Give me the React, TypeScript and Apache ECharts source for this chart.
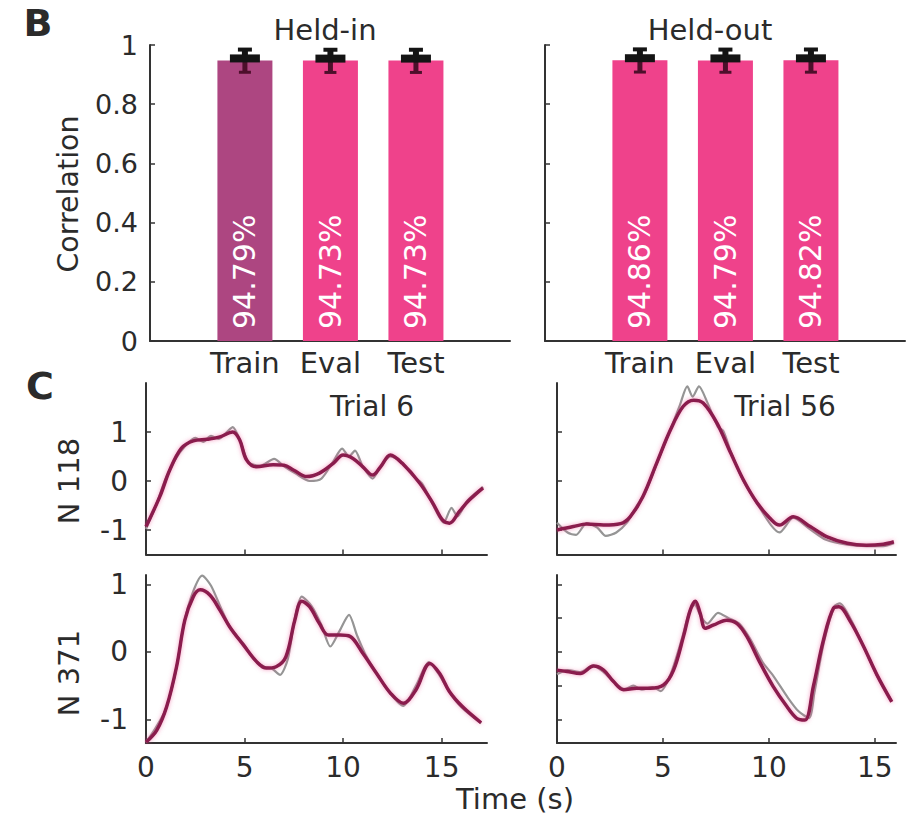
import React, { useEffect, useRef } from 'react';
import * as echarts from 'echarts';

// ---------- Panel B data ----------
const barCategories = ['Train', 'Eval', 'Test'];
const heldInValues = [0.9479, 0.9473, 0.9473];
const heldOutValues = [0.9486, 0.9479, 0.9482];
const heldInErrors = [0.04, 0.04, 0.04];
const heldOutErrors = [0.04, 0.04, 0.04];
const heldInColors = ['#ad4681', '#ef428b', '#ef428b'];
const heldOutColors = ['#ef428b', '#ef428b', '#ef428b'];
const barYTicks = [0, 0.2, 0.4, 0.6, 0.8, 1];

// ---------- Panel C data: [time (s), value] ----------
const n118Trial6Pred: number[][] = [
  [0, -0.93], [0.7, -0.32], [1.2, 0.22], [1.8, 0.67], [2.4, 0.82], [3.1, 0.85], [3.75, 0.9],
  [4.4, 1.0], [4.75, 0.84], [5.1, 0.43], [5.6, 0.29], [6.45, 0.33], [7.0, 0.32], [7.5, 0.22],
  [8.15, 0.09], [8.8, 0.16], [9.5, 0.36], [10.0, 0.53], [10.5, 0.46], [11.0, 0.29], [11.5, 0.12],
  [11.9, 0.29], [12.4, 0.53], [13.0, 0.36], [13.9, -0.05], [14.55, -0.45], [15.05, -0.8],
  [15.4, -0.86], [15.9, -0.62], [16.4, -0.39], [17.1, -0.14],
];
const n118Trial6True: number[][] = [
  [0, -0.98], [0.5, -0.5], [1.0, 0.05], [1.5, 0.45], [2.0, 0.72], [2.5, 0.88], [2.9, 0.8],
  [3.3, 0.92], [3.7, 0.86], [4.1, 1.0], [4.4, 1.1], [4.8, 0.8], [5.2, 0.38], [5.8, 0.31],
  [6.5, 0.45], [7.0, 0.3], [7.6, 0.15], [8.3, 0.0], [8.9, 0.05], [9.5, 0.4], [9.95, 0.66],
  [10.3, 0.5], [10.6, 0.62], [11.0, 0.3], [11.5, 0.05], [11.9, 0.3], [12.4, 0.5], [13.0, 0.38],
  [13.5, 0.12], [14.0, -0.05], [14.6, -0.52], [15.1, -0.85], [15.5, -0.55], [15.8, -0.72],
  [16.3, -0.4], [17.1, -0.12],
];
const n118Trial56Pred: number[][] = [
  [0, -1.0], [0.77, -0.93], [1.4, -0.88], [2.2, -0.9], [3.0, -0.87], [3.45, -0.73], [4.05, -0.32],
  [4.7, 0.36], [5.35, 1.04], [5.95, 1.52], [6.45, 1.65], [6.9, 1.59], [7.55, 1.18], [8.2, 0.57],
  [8.8, 0.02], [9.45, -0.45], [10.05, -0.76], [10.5, -0.9], [11.15, -0.73], [11.95, -0.93],
  [12.75, -1.14], [13.7, -1.27], [14.6, -1.31], [15.4, -1.29], [15.9, -1.24],
];
const n118Trial56True: number[][] = [
  [0, -0.85], [0.5, -1.05], [0.9, -1.1], [1.4, -0.86], [1.9, -0.95], [2.3, -1.12], [2.8, -1.05],
  [3.3, -0.85], [3.7, -0.55], [4.2, -0.2], [4.8, 0.45], [5.4, 1.1], [5.8, 1.55], [6.15, 1.93],
  [6.4, 1.72], [6.7, 1.93], [7.1, 1.6], [7.6, 1.1], [7.85, 1.02], [8.2, 0.6], [8.8, 0.0],
  [9.5, -0.5], [10.1, -0.9], [10.5, -1.05], [11.15, -0.75], [11.9, -0.97], [12.7, -1.2],
  [13.7, -1.3], [14.6, -1.33], [15.4, -1.33], [15.9, -1.27],
];
const n371Trial6Pred: number[][] = [
  [0, -1.34], [0.55, -1.16], [1.05, -0.81], [1.55, -0.22], [1.97, 0.47], [2.4, 0.82], [2.75, 0.92],
  [3.25, 0.84], [3.75, 0.62], [4.25, 0.37], [4.95, 0.1], [5.6, -0.14], [6.1, -0.24], [6.6, -0.22],
  [7.1, -0.07], [7.55, 0.47], [7.9, 0.75], [8.3, 0.67], [8.8, 0.42], [9.25, 0.25], [9.85, 0.25],
  [10.35, 0.23], [11.0, -0.02], [11.7, -0.32], [12.4, -0.61], [13.05, -0.76], [13.7, -0.56],
  [14.4, -0.17], [14.9, -0.32], [15.4, -0.59], [16.05, -0.81], [17.0, -1.05],
];
const n371Trial6True: number[][] = [
  [0, -1.34], [0.5, -1.12], [1.0, -0.85], [1.5, -0.3], [1.95, 0.45], [2.4, 0.9], [2.85, 1.13],
  [3.3, 0.98], [3.8, 0.65], [4.3, 0.35], [4.95, 0.12], [5.5, -0.12], [6.0, -0.22], [6.4, -0.25],
  [6.8, -0.34], [7.2, -0.1], [7.55, 0.5], [7.9, 0.82], [8.4, 0.68], [8.9, 0.4], [9.35, 0.08],
  [9.8, 0.3], [10.3, 0.55], [10.7, 0.25], [11.1, -0.02], [11.7, -0.32], [12.4, -0.62],
  [13.05, -0.8], [13.7, -0.5], [14.35, -0.15], [14.9, -0.35], [15.4, -0.6], [16.0, -0.82],
  [17.0, -1.06],
];
const n371Trial56Pred: number[][] = [
  [0, -0.27], [0.47, -0.29], [1.1, -0.32], [1.73, -0.21], [2.2, -0.27], [2.67, -0.44], [3.14, -0.56],
  [3.77, -0.54], [4.4, -0.54], [5.03, -0.49], [5.5, -0.27], [5.97, 0.23], [6.29, 0.62], [6.53, 0.75],
  [6.76, 0.57], [7.0, 0.35], [7.4, 0.4], [8.0, 0.47], [8.5, 0.42], [8.96, 0.23], [9.6, -0.17],
  [10.2, -0.51], [10.85, -0.81], [11.3, -0.98], [11.7, -1.01], [12.1, -0.51], [12.58, 0.18],
  [13.05, 0.65], [13.3, 0.67], [13.85, 0.45], [14.47, 0.08], [15.1, -0.34], [15.8, -0.74],
];
const n371Trial56True: number[][] = [
  [0, -0.33], [0.5, -0.27], [1.1, -0.3], [1.7, -0.2], [2.2, -0.3], [2.7, -0.45], [3.2, -0.55],
  [3.6, -0.5], [4.0, -0.56], [4.5, -0.52], [4.9, -0.58], [5.4, -0.3], [5.9, 0.2], [6.25, 0.6],
  [6.5, 0.7], [6.8, 0.52], [7.1, 0.42], [7.6, 0.58], [8.1, 0.5], [8.6, 0.42], [9.1, 0.2],
  [9.7, -0.15], [10.2, -0.35], [10.9, -0.68], [11.4, -0.88], [11.9, -0.98], [12.15, -0.6],
  [12.6, 0.15], [13.1, 0.68], [13.35, 0.72], [13.9, 0.46], [14.5, 0.06], [15.1, -0.35], [15.8, -0.73],
];
const timeTicks = [0, 5, 10, 15];
const traceYTicks = [-1, 0, 1];
const traceYTicksFine = [-1, -0.5, 0, 0.5, 1];

const FONT = 'DejaVu Sans';
const INK = '#2b2b2b';
const AXIS = '#333333';
const PRED = '#8a1e4d';
const TRUE = '#959595';

export default function App() {
  const ref = useRef<HTMLDivElement>(null);

  useEffect(() => {
    document.body.style.margin = '0';
    if (!ref.current) return;
    const chart = echarts.init(ref.current, undefined, { renderer: 'svg' });

    const axisLine = { show: true, onZero: false, lineStyle: { color: AXIS, width: 2 } };
    const axisTick = { show: true, inside: true, length: 5, lineStyle: { color: AXIS, width: 1.5 } };

    const grids = [
      { left: 150, top: 45, width: 360, height: 296 },
      { left: 545, top: 45, width: 360, height: 296 },
      { left: 146, top: 383, width: 341, height: 171.5 },
      { left: 557, top: 383, width: 339, height: 171.5 },
      { left: 146, top: 575, width: 341, height: 168 },
      { left: 557, top: 575, width: 339, height: 168 },
    ];

    const barX = (showLabel: boolean) => ({
      type: 'value', min: -0.11, max: 4.1,
      axisLine, axisTick: { show: false }, splitLine: { show: false },
      axisLabel: {
        show: showLabel, customValues: [1, 2, 3], margin: 7,
        fontSize: 29, fontFamily: FONT, color: INK,
        formatter: (v: number) => barCategories[Math.round(v) - 1] ?? '',
      },
    });
    const barY = (showLabel: boolean) => ({
      type: 'value', min: 0, max: 1,
      axisLine, splitLine: { show: false },
      axisTick: { ...axisTick, customValues: barYTicks },
      axisLabel: {
        show: showLabel, customValues: barYTicks, margin: 12,
        fontSize: 27, fontFamily: FONT, color: INK,
        formatter: (v: number) => (v === 0 || v === 1 ? String(v) : v.toFixed(1)),
      },
    });
    const timeX = (max: number, showLabel: boolean) => ({
      type: 'value', min: 0, max,
      axisLine, splitLine: { show: false },
      axisTick: { ...axisTick, customValues: timeTicks },
      axisLabel: { show: showLabel, customValues: timeTicks, margin: 10, fontSize: 28, fontFamily: FONT, color: INK },
    });
    const traceY = (min: number, max: number, ticks: number[], showLabel: boolean) => ({
      type: 'value', min, max,
      axisLine, splitLine: { show: false },
      axisTick: { ...axisTick, customValues: ticks },
      axisLabel: { show: showLabel, customValues: traceYTicks, margin: 18, fontSize: 28, fontFamily: FONT, color: INK },
    });

    const barSeries = (idx: number, values: number[], colors: string[]) => ({
      type: 'bar', xAxisIndex: idx, yAxisIndex: idx, barWidth: 55,
      data: values.map((v, i) => ({ value: [i + 1, v], itemStyle: { color: colors[i] } })),
      label: {
        show: true, position: 'insideBottom', rotate: 90, align: 'left', verticalAlign: 'middle',
        distance: 12, color: '#ffffff', fontSize: 30, fontFamily: FONT,
        formatter: (p: any) => (p.value[1] * 100).toFixed(2) + '%',
      },
    });
    const errSeries = (idx: number, values: number[], errs: number[]) => ({
      type: 'custom', xAxisIndex: idx, yAxisIndex: idx, z: 5,
      data: values.map((v, i) => [i + 1, v, errs[i]]),
      encode: { x: 0, y: 1 },
      renderItem: (_p: any, api: any) => {
        const x = api.value(0), y = api.value(1), e = api.value(2);
        const top = api.coord([x, y + e]);
        const mid = api.coord([x, y]);
        const bot = api.coord([x, y - e]);
        const cx = mid[0];
        return {
          type: 'group',
          children: [
            { type: 'line', shape: { x1: cx, y1: mid[1], x2: cx, y2: bot[1] }, style: { stroke: '#4d0f2b', lineWidth: 5 } },
            { type: 'line', shape: { x1: cx - 6, y1: bot[1], x2: cx + 6, y2: bot[1] }, style: { stroke: '#4d0f2b', lineWidth: 3 } },
            { type: 'line', shape: { x1: cx, y1: top[1], x2: cx, y2: mid[1] }, style: { stroke: '#141414', lineWidth: 6 } },
            { type: 'line', shape: { x1: cx - 7, y1: top[1] + 1, x2: cx + 7, y2: top[1] + 1 }, style: { stroke: '#141414', lineWidth: 4 } },
            { type: 'line', shape: { x1: cx - 15, y1: mid[1] - 2, x2: cx + 15, y2: mid[1] - 2 }, style: { stroke: '#141414', lineWidth: 8 } },
          ],
        };
      },
    });
    const trueLine = (idx: number, data: number[][]) => ({
      type: 'line', xAxisIndex: idx, yAxisIndex: idx, data, showSymbol: false, smooth: 0.25,
      lineStyle: { color: TRUE, width: 2.2 }, z: 2,
    });
    const predLine = (idx: number, data: number[][]) => ({
      type: 'line', xAxisIndex: idx, yAxisIndex: idx, data, showSymbol: false, smooth: 0.35,
      lineStyle: { color: PRED, width: 3.5, shadowColor: 'rgba(235,70,140,0.55)', shadowBlur: 4 }, z: 3,
    });

    const txt = (text: string, x: number, y: number, size: number, extra: any = {}) => ({
      type: 'text', x, y, rotation: extra.rotation ?? 0,
      style: {
        text, x: 0, y: 0, fontSize: size, fontFamily: FONT, fontWeight: extra.bold ? 'bold' : 'normal',
        fill: INK, align: 'center', verticalAlign: 'middle',
      },
    });

    chart.setOption({
      animation: false,
      backgroundColor: '#ffffff',
      grid: grids,
      xAxis: [
        { gridIndex: 0, ...barX(true) },
        { gridIndex: 1, ...barX(true) },
        { gridIndex: 2, ...timeX(17.3, false) },
        { gridIndex: 3, ...timeX(16, false) },
        { gridIndex: 4, ...timeX(17.3, true) },
        { gridIndex: 5, ...timeX(16, true) },
      ],
      yAxis: [
        { gridIndex: 0, ...barY(true) },
        { gridIndex: 1, ...barY(false) },
        { gridIndex: 2, ...traceY(-1.5, 2, traceYTicks, true) },
        { gridIndex: 3, ...traceY(-1.5, 2, traceYTicks, false) },
        { gridIndex: 4, ...traceY(-1.35, 1.14, traceYTicks, true) },
        { gridIndex: 5, ...traceY(-1.35, 1.14, traceYTicksFine, false) },
      ],
      series: [
        barSeries(0, heldInValues, heldInColors),
        barSeries(1, heldOutValues, heldOutColors),
        errSeries(0, heldInValues, heldInErrors),
        errSeries(1, heldOutValues, heldOutErrors),
        trueLine(2, n118Trial6True), predLine(2, n118Trial6Pred),
        trueLine(3, n118Trial56True), predLine(3, n118Trial56Pred),
        trueLine(4, n371Trial6True), predLine(4, n371Trial6Pred),
        trueLine(5, n371Trial56True), predLine(5, n371Trial56Pred),
      ],
      graphic: [
        txt('B', 38, 23, 38, { bold: true }),
        txt('C', 40, 386, 38, { bold: true }),
        txt('Held-in', 325, 30, 29),
        txt('Held-out', 710, 30, 29),
        txt('Correlation', 68, 194, 28.5, { rotation: Math.PI / 2 }),
        txt('Trial 6', 372, 406, 28),
        txt('Trial 56', 785, 406, 28),
        txt('N 118', 69, 481, 29, { rotation: Math.PI / 2 }),
        txt('N 371', 69, 673, 29, { rotation: Math.PI / 2 }),
        txt('Time (s)', 515, 799, 29),
      ],
    });

    return () => chart.dispose();
  }, []);

  return <div ref={ref} style={{ width: 910, height: 819 }} />;
}
